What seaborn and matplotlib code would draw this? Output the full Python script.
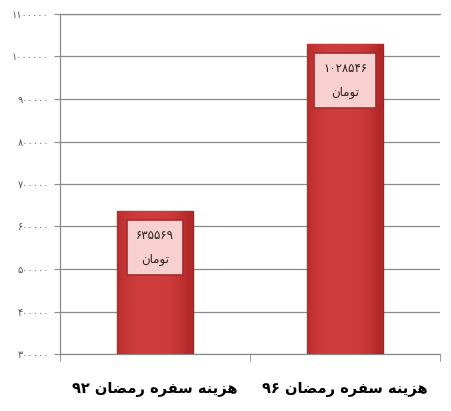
import numpy as np
import pandas as pd
import matplotlib
matplotlib.use('Agg')
import matplotlib.pyplot as plt
import seaborn as sns
from matplotlib.ticker import FixedLocator, FuncFormatter
from matplotlib.colors import LinearSegmentedColormap

# ---- data ----
categories = ['هزینه سفره رمضان ۹۲', 'هزینه سفره رمضان ۹۶']
values = [635569, 1028546]
unit = 'تومان'
y_ticks = [300000, 400000, 500000, 600000, 700000, 800000, 900000, 1000000, 1100000]

# ---- tiny persian shaper (matplotlib has no arabic shaping) ----
FORMS = {  # isolated, final, initial, medial
    'ه': ('\uFEE9', '\uFEEA', '\uFEEB', '\uFEEC'),
    'ز': ('\uFEAF', '\uFEB0', None, None),
    'ی': ('\uFBFC', '\uFBFD', '\uFEF3', '\uFEF4'),
    'ن': ('\uFEE5', '\uFEE6', '\uFEE7', '\uFEE8'),
    'س': ('\uFEB1', '\uFEB2', '\uFEB3', '\uFEB4'),
    'ف': ('\uFED1', '\uFED2', '\uFED3', '\uFED4'),
    'ر': ('\uFEAD', '\uFEAE', None, None),
    'م': ('\uFEE1', '\uFEE2', '\uFEE3', '\uFEE4'),
    'ض': ('\uFEBD', '\uFEBE', '\uFEBF', '\uFEC0'),
    'ا': ('\uFE8D', '\uFE8E', None, None),
    'ت': ('\uFE95', '\uFE96', '\uFE97', '\uFE98'),
    'و': ('\uFEED', '\uFEEE', None, None),
}


def shape_word(w):
    out = []
    for i, c in enumerate(w):
        if c not in FORMS:
            out.append(c)
            continue
        prev = w[i - 1] if i > 0 else None
        nxt = w[i + 1] if i < len(w) - 1 else None
        jp = prev in FORMS and FORMS[prev][2] is not None
        jn = nxt in FORMS and FORMS[c][2] is not None
        f = FORMS[c]
        out.append(f[3] if jp and jn else f[2] if jn else f[1] if jp else f[0])
    return ''.join(out)


def fa(text):
    toks = text.split(' ')
    vis = []
    for t in reversed(toks):
        if t and t[0] in FORMS:
            vis.append(shape_word(t)[::-1])
        else:
            vis.append(t)
    return ' '.join(vis)


def fa_num(v):
    return str(int(v)).translate(str.maketrans('0123456789', '۰۱۲۳۴۵۶۷۸۹'))


# ---- plot ----
sns.set_style('white')
plt.rcParams['font.family'] = ['DejaVu Sans']

df = pd.DataFrame({'cat': [fa(c) for c in categories], 'val': values})

fig = plt.figure(figsize=(4.52, 4.11), dpi=100)
ax = fig.add_axes([60 / 452, 1 - 354 / 411, 380 / 452, 340 / 411])

sns.barplot(data=df, x='cat', y='val', color='#c83232', width=0.4, ax=ax,
            edgecolor='#a32020', linewidth=1.0, zorder=3)

ax.set_ylim(300000, 1100000)
ax.set_xlim(-0.5, 1.5)

# soft shading on the bars
grad = np.linspace(0, 1, 64)
shade = 1 - (np.abs(grad - 0.45) * 2) ** 3
cmap = LinearSegmentedColormap.from_list('rb', ['#b22828', '#cf3c3c'])
for p in ax.patches:
    x0 = p.get_x()
    w, h = p.get_width(), p.get_height()
    im = ax.imshow(shade[np.newaxis, :], cmap=cmap, vmin=0, vmax=1, aspect='auto',
                   extent=(x0, x0 + w, 300000, h), zorder=3.5)
    im.set_clip_path(p)

for i, v in enumerate(values):
    ax.annotate(fa_num(v) + '\n' + fa(unit), xy=(i, v), xytext=(0, -26), textcoords='offset points',
                ha='center', va='center', fontsize=8.5, color='#2a2020', linespacing=2.1,
                zorder=5,
                bbox=dict(boxstyle='square,pad=0.75', facecolor='#f8d0d0', edgecolor='#a52a2a', linewidth=1.2))

ax.yaxis.set_major_locator(FixedLocator(y_ticks))
ax.yaxis.set_major_formatter(FuncFormatter(lambda v, pos: fa_num(v)))
ax.grid(axis='y', color='#8a8a8a', linewidth=0.9, zorder=0)
ax.set_xlabel('')
ax.set_ylabel('')

ax.spines['right'].set_visible(False)
for s in ['left', 'top', 'bottom']:
    ax.spines[s].set_color('#8a8a8a')
    ax.spines[s].set_linewidth(0.9)

ax.tick_params(axis='y', length=4, color='#8a8a8a', labelsize=7, labelcolor='#555555', left=True, pad=4)
ax.set_xticks([-0.5, 0.5, 1.5], minor=True)
ax.tick_params(axis='x', which='minor', length=5, color='#8a8a8a', bottom=True)
ax.tick_params(axis='x', which='major', length=0, labelsize=10.5, pad=20)
for lbl in ax.get_xticklabels():
    lbl.set_fontweight('bold')
    lbl.set_color('black')

fig.savefig('out.png', dpi=100, facecolor='white')
